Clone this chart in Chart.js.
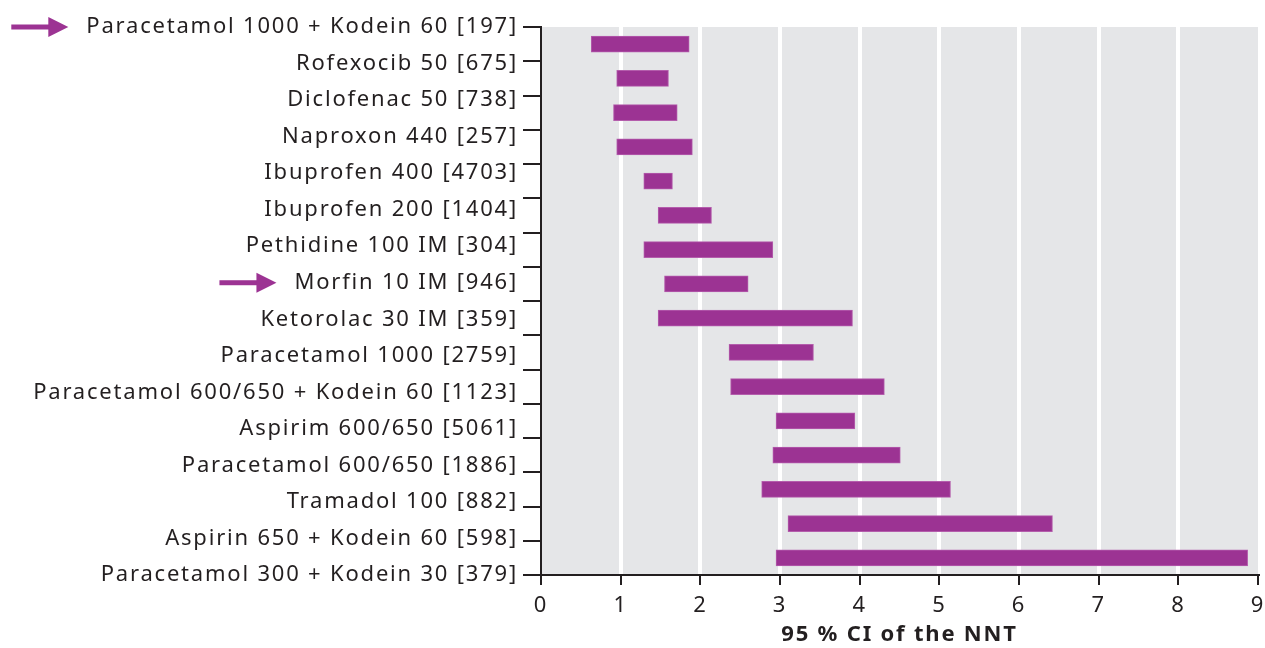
<!DOCTYPE html>
<html>
<head>
<meta charset="utf-8">
<script src="https://cdn.jsdelivr.net/npm/chart.js@4"></script>
<style>
  html, body { margin: 0; padding: 0; background: #fff; }
  #wrap { width: 1265px; height: 648px; }
</style>
</head>
<body>
<div id="wrap"><canvas id="nnt"></canvas></div>
<script>
// Läkemedel och 95% CI för NNT
const drugs = [
  'Paracetamol 1000 + Kodein 60 [197]',
  'Rofexocib 50 [675]',
  'Diclofenac 50 [738]',
  'Naproxon 440 [257]',
  'Ibuprofen 400 [4703]',
  'Ibuprofen 200 [1404]',
  'Pethidine 100 IM [304]',
  'Morfin 10 IM [946]',
  'Ketorolac 30 IM [359]',
  'Paracetamol 1000 [2759]',
  'Paracetamol 600/650 + Kodein 60 [1123]',
  'Aspirim 600/650 [5061]',
  'Paracetamol 600/650 [1886]',
  'Tramadol 100 [882]',
  'Aspirin 650 + Kodein 60 [598]',
  'Paracetamol 300 + Kodein 30 [379]'
];
const ciLow  = [0.63, 0.95, 0.91, 0.95, 1.29, 1.47, 1.29, 1.55, 1.47, 2.36, 2.38, 2.95, 2.91, 2.77, 3.10, 2.95];
const ciHigh = [1.86, 1.60, 1.71, 1.90, 1.65, 2.14, 2.91, 2.60, 3.91, 3.42, 4.31, 3.94, 4.51, 5.14, 6.42, 8.87];
const xTicks = [0, 1, 2, 3, 4, 5, 6, 7, 8, 9];
const markedRows = [0, 7]; // rader med pil

const purple = '#9c3393';
const textColor = '#231f20';
const fontFamily = '"Noto Sans", "Open Sans", sans-serif';
const spacing = '1.8px';

// lite bredare text, som i originalet
const spacingPlugin = {
  id: 'spacing',
  beforeLayout(chart) { chart.ctx.letterSpacing = spacing; },
  beforeDraw(chart) { chart.ctx.letterSpacing = spacing; }
};

// grå bakgrund i plotytan
const bgPlugin = {
  id: 'plotBg',
  beforeDraw(chart) {
    const a = chart.chartArea;
    const ctx = chart.ctx;
    ctx.save();
    ctx.fillStyle = '#e5e6e8';
    ctx.fillRect(a.left, a.top, a.right - a.left, a.bottom - a.top);
    ctx.restore();
  }
};

// pilar framför utvalda etiketter
const arrowPlugin = {
  id: 'arrows',
  afterDraw(chart) {
    const scale = chart.scales.yLabels;
    const ctx = chart.ctx;
    ctx.save();
    ctx.letterSpacing = spacing;
    ctx.font = '22px ' + fontFamily;
    markedRows.forEach(i => {
      const y = scale.getPixelForValue(i);
      const w = ctx.measureText(drugs[i]).width;
      const tip = scale.right - 3 - w - 18;
      ctx.fillStyle = purple;
      ctx.fillRect(tip - 57, y - 2.5, 40, 5);
      ctx.beginPath();
      ctx.moveTo(tip, y);
      ctx.lineTo(tip - 20, y - 10);
      ctx.lineTo(tip - 20, y + 10);
      ctx.closePath();
      ctx.fill();
    });
    ctx.restore();
  }
};

const ctx = document.getElementById('nnt').getContext('2d');
new Chart(ctx, {
  type: 'bar',
  data: {
    labels: drugs,
    datasets: [{
      data: drugs.map((d, i) => [ciLow[i], ciHigh[i]]),
      backgroundColor: purple,
      borderColor: '#b45dac',
      borderWidth: 1,
      borderSkipped: false,
      barThickness: 16,
      yAxisID: 'y'
    }]
  },
  options: {
    indexAxis: 'y',
    responsive: true,
    maintainAspectRatio: false,
    animation: false,
    layout: { padding: { top: 27, right: 7, bottom: 0, left: 0 } },
    plugins: {
      legend: { display: false },
      tooltip: { enabled: false }
    },
    scales: {
      x: {
        type: 'linear',
        min: 0,
        max: 9,
        afterBuildTicks(scale) {
          scale.ticks = xTicks.map(v => ({ value: v }));
        },
        afterFit(scale) {
          scale.height = 73;
          scale.paddingLeft = 0;
          scale.paddingRight = 0;
        },
        grid: {
          color: c => (c.tick && (c.tick.value === 0 || c.tick.value === 9)) ? 'rgba(0,0,0,0)' : '#ffffff',
          lineWidth: 4,
          tickColor: textColor,
          tickWidth: 2,
          tickLength: 10
        },
        border: { color: textColor, width: 2 },
        ticks: {
          color: textColor,
          padding: 8,
          font: { family: fontFamily, size: 22 }
        },
        title: {
          display: true,
          text: '95 % CI of the NNT',
          color: textColor,
          font: { family: fontFamily, size: 22, weight: 'bold' },
          padding: { top: 0, bottom: 0 }
        }
      },
      y: {
        type: 'category',
        position: 'left',
        weight: 0,
        offset: true,
        afterFit(scale) { scale.width = 20; },
        grid: {
          offset: true,
          drawOnChartArea: false,
          color: textColor,
          lineWidth: 2,
          tickLength: 18
        },
        border: { color: textColor, width: 2 },
        ticks: { display: false }
      },
      yLabels: {
        type: 'category',
        position: 'left',
        weight: 1,
        labels: drugs,
        offset: false,
        afterFit(scale) { scale.width = 521; },
        grid: { display: false, drawTicks: false },
        border: { display: false },
        ticks: {
          color: textColor,
          padding: 3,
          autoSkip: false,
          font: { family: fontFamily, size: 22 }
        }
      }
    }
  },
  plugins: [spacingPlugin, bgPlugin, arrowPlugin]
});
</script>
</body>
</html>
